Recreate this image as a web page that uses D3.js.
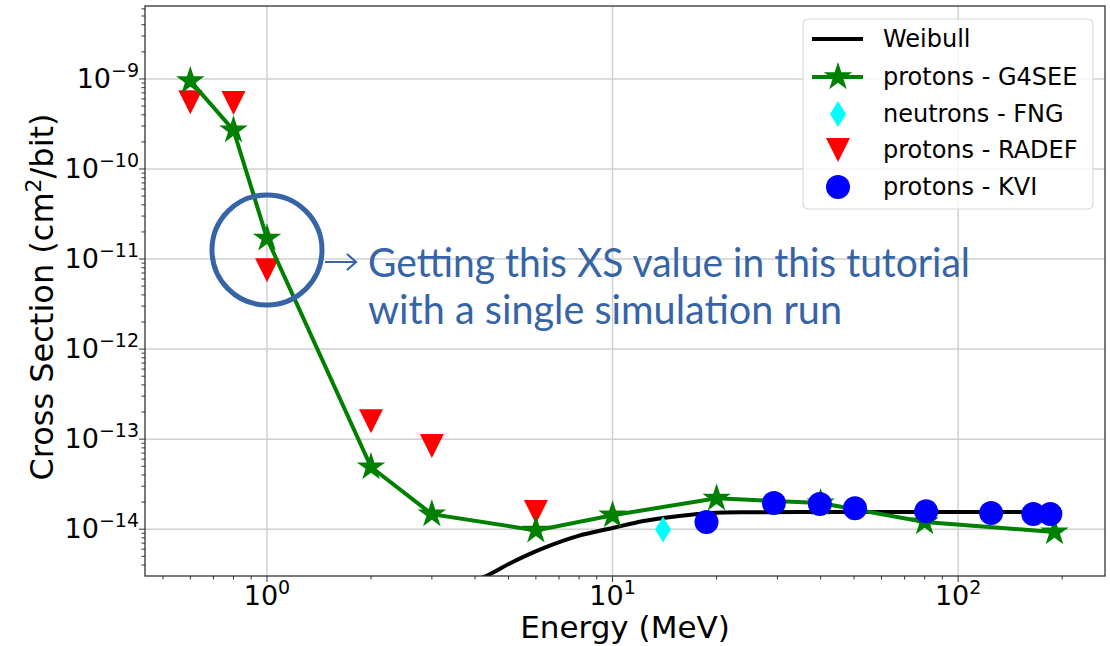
<!DOCTYPE html>
<html lang="en">

<head>
    <meta charset="UTF-8">
    <title>Cross Section vs Energy</title>
    <style>
    body {
        margin: 0;
        background: #fff;
    }

    text {
        font-family: "DejaVu Sans", sans-serif;
        fill: #000;
    }

    .note {
        font-family: Lato, "Open Sans", sans-serif;
        fill: #3764a6;
    }
    </style>
</head>

<body>
    <svg width="1110" height="646"></svg>
    <script src="https://cdn.jsdelivr.net/npm/d3@7"></script>
</body>
<script>
// values (energy in MeV, cross section in cm2/bit)
var weibullE = [3.9, 4.23, 5.06, 6.31, 7.92, 10, 12.3, 15.4, 19.2, 23.5, 35, 60, 100, 200];
var weibullXS = [2.6e-15, 2.93e-15, 4.19e-15, 6.15e-15, 8.36e-15, 1.03e-14, 1.23e-14, 1.39e-14, 1.51e-14, 1.54e-14, 1.55e-14, 1.55e-14, 1.55e-14, 1.55e-14];

var g4seeE = [0.6, 0.8, 1, 2, 3, 6, 10, 20, 40, 80, 190];
var g4seeXS = [9.5e-10, 2.7e-10, 1.7e-11, 4.9e-14, 1.47e-14, 9.7e-15, 1.43e-14, 2.2e-14, 1.95e-14, 1.2e-14, 9.3e-15];

var fngE = [14];
var fngXS = [9.9e-15];

var radefE = [0.6, 0.8, 1, 2, 3, 6];
var radefXS = [5.5e-10, 5.4e-10, 7.5e-12, 1.58e-13, 8.4e-14, 1.55e-14];

var kviE = [18.7, 29.3, 39.8, 50.3, 80.8, 124.6, 165, 184.8];
var kviXS = [1.2e-14, 1.95e-14, 1.9e-14, 1.71e-14, 1.58e-14, 1.51e-14, 1.47e-14, 1.47e-14];

var xTicks = [1, 10, 100];
var xTickExp = ["0", "1", "2"];
var yTicks = [1e-9, 1e-10, 1e-11, 1e-12, 1e-13, 1e-14];
var yTickExp = ["\u22129", "\u221210", "\u221211", "\u221212", "\u221213", "\u221214"];

var legendNames = ["Weibull", "protons - G4SEE", "neutrons - FNG", "protons - RADEF", "protons - KVI"];

var svg = d3.select("svg"),
    pLeft = 145,
    pRight = 1105,
    pTop = 6,
    pBottom = 576;

var x = d3.scaleLog()
    .domain([Math.pow(10, -0.353), Math.pow(10, 2.425)])
    .range([pLeft, pRight]);

var y = d3.scaleLog()
    .domain([Math.pow(10, -14.52), Math.pow(10, -8.19)])
    .range([pBottom, pTop]);

function zip(a, b) {
    return a.map(function(d, i) {
        return [d, b[i]];
    });
}

// marker shapes, sized like the matplotlib ones
function starPath(r) {
    var p = d3.path(),
        ri = r * 0.382;
    for (var i = 0; i < 10; i++) {
        var rr = i % 2 ? ri : r,
            a = Math.PI * i / 5;
        var px = rr * Math.sin(a),
            py = -rr * Math.cos(a);
        if (i == 0) p.moveTo(px, py);
        else p.lineTo(px, py);
    }
    p.closePath();
    return p.toString();
}

var triDown = "M0,12L-12,-12L12,-12Z";
var thinDiamond = "M0,-13L8,0L0,13L-8,0Z";

function at(d) {
    return "translate(" + x(d[0]) + "," + y(d[1]) + ")";
}

svg.append("defs").append("clipPath")
    .attr("id", "plot")
    .append("rect")
    .attr("x", pLeft)
    .attr("y", pTop)
    .attr("width", pRight - pLeft)
    .attr("height", pBottom - pTop);

// grid
var grid = svg.append("g");
grid.selectAll(".gx")
    .data(xTicks)
    .enter().append("line")
    .attr("x1", function(d) { return x(d); })
    .attr("x2", function(d) { return x(d); })
    .attr("y1", pTop)
    .attr("y2", pBottom)
    .attr("stroke", "#d0d0d0")
    .attr("stroke-width", 1.5);

grid.selectAll(".gy")
    .data(yTicks)
    .enter().append("line")
    .attr("x1", pLeft)
    .attr("x2", pRight)
    .attr("y1", function(d) { return y(d); })
    .attr("y2", function(d) { return y(d); })
    .attr("stroke", "#d0d0d0")
    .attr("stroke-width", 1.5);

var plot = svg.append("g").attr("clip-path", "url(#plot)");

var line = d3.line()
    .x(function(d) { return x(d[0]); })
    .y(function(d) { return y(d[1]); });

// weibull fit
plot.append("path")
    .datum(zip(weibullE, weibullXS))
    .attr("fill", "none")
    .attr("stroke", "#000")
    .attr("stroke-width", 4)
    .attr("d", line.curve(d3.curveMonotoneX));

// RADEF
plot.selectAll(".radef")
    .data(zip(radefE, radefXS))
    .enter().append("path")
    .attr("transform", at)
    .attr("d", triDown)
    .attr("fill", "#ff0000");

// G4SEE
plot.append("path")
    .datum(zip(g4seeE, g4seeXS))
    .attr("fill", "none")
    .attr("stroke", "#008000")
    .attr("stroke-width", 4)
    .attr("d", line.curve(d3.curveLinear));

plot.selectAll(".g4see")
    .data(zip(g4seeE, g4seeXS))
    .enter().append("path")
    .attr("transform", at)
    .attr("d", starPath(15))
    .attr("fill", "#008000");

// FNG
plot.selectAll(".fng")
    .data(zip(fngE, fngXS))
    .enter().append("path")
    .attr("transform", at)
    .attr("d", thinDiamond)
    .attr("fill", "#00ffff");

// KVI
plot.selectAll(".kvi")
    .data(zip(kviE, kviXS))
    .enter().append("circle")
    .attr("cx", function(d) { return x(d[0]); })
    .attr("cy", function(d) { return y(d[1]); })
    .attr("r", 12)
    .attr("fill", "#0000ff");

// spines
svg.append("rect")
    .attr("x", pLeft)
    .attr("y", pTop)
    .attr("width", pRight - pLeft)
    .attr("height", pBottom - pTop)
    .attr("fill", "none")
    .attr("stroke", "#333")
    .attr("stroke-width", 1.3);

// ticks (major + minor, outward)
var xMinor = x.ticks().filter(function(d) { return xTicks.indexOf(d) < 0; });
var yMinor = y.ticks().filter(function(d) {
    return !yTicks.some(function(t) { return Math.abs(t - d) / t < 1e-6; });
});

var ticks = svg.append("g").attr("stroke", "#333");
ticks.selectAll(".xt")
    .data(xTicks.map(function(d) { return [d, 6]; }).concat(xMinor.map(function(d) { return [d, 3.5]; })))
    .enter().append("line")
    .attr("x1", function(d) { return x(d[0]); })
    .attr("x2", function(d) { return x(d[0]); })
    .attr("y1", pBottom)
    .attr("y2", function(d) { return pBottom + d[1]; })
    .attr("stroke-width", 1);

ticks.selectAll(".yt")
    .data(yTicks.map(function(d) { return [d, 6]; }).concat(yMinor.map(function(d) { return [d, 3.5]; })))
    .enter().append("line")
    .attr("x1", pLeft)
    .attr("x2", function(d) { return pLeft - d[1]; })
    .attr("y1", function(d) { return y(d[0]); })
    .attr("y2", function(d) { return y(d[0]); })
    .attr("stroke-width", 1);

// tick labels: 10 with a superscript
var xl = svg.selectAll(".xl")
    .data(xTicks)
    .enter().append("text")
    .attr("x", function(d) { return x(d); })
    .attr("y", 605)
    .attr("text-anchor", "middle")
    .style("font-size", "27px");
xl.append("tspan").text("10");
xl.append("tspan")
    .attr("dy", -11)
    .style("font-size", "19px")
    .text(function(d, i) { return xTickExp[i]; });

var yl = svg.selectAll(".yl")
    .data(yTicks)
    .enter().append("text")
    .attr("x", 139)
    .attr("y", function(d) { return y(d) + 9; })
    .attr("text-anchor", "end")
    .style("font-size", "27px");
yl.append("tspan").text("10");
yl.append("tspan")
    .attr("dy", -11)
    .style("font-size", "19px")
    .text(function(d, i) { return yTickExp[i]; });

// axis titles
svg.append("text")
    .attr("x", (pLeft + pRight) / 2)
    .attr("y", 638)
    .attr("text-anchor", "middle")
    .style("font-size", "31px")
    .text("Energy (MeV)");

var yt = svg.append("text")
    .attr("transform", "translate(53," + 297 + ") rotate(-90)")
    .attr("text-anchor", "middle")
    .style("font-size", "32px");
yt.append("tspan").text("Cross Section (cm");
yt.append("tspan").attr("dy", -12).style("font-size", "22px").text("2");
yt.append("tspan").attr("dy", 12).text("/bit)");

// legend
var legend = svg.append("g");
legend.append("rect")
    .attr("x", 803)
    .attr("y", 19)
    .attr("width", 290)
    .attr("height", 190)
    .attr("rx", 5)
    .attr("fill", "#fff")
    .attr("fill-opacity", 0.8)
    .attr("stroke", "#d9d9d9")
    .attr("stroke-width", 1.2);

var rowY = [39, 77, 114, 150, 187];
var mx = 838;

legend.append("line")
    .attr("x1", 812).attr("x2", 863)
    .attr("y1", rowY[0]).attr("y2", rowY[0])
    .attr("stroke", "#000").attr("stroke-width", 4);
legend.append("line")
    .attr("x1", 812).attr("x2", 863)
    .attr("y1", rowY[1]).attr("y2", rowY[1])
    .attr("stroke", "#008000").attr("stroke-width", 4);
legend.append("path")
    .attr("transform", "translate(" + mx + "," + rowY[1] + ")")
    .attr("d", starPath(15))
    .attr("fill", "#008000");
legend.append("path")
    .attr("transform", "translate(" + mx + "," + rowY[2] + ")")
    .attr("d", thinDiamond)
    .attr("fill", "#00ffff");
legend.append("path")
    .attr("transform", "translate(" + mx + "," + rowY[3] + ")")
    .attr("d", triDown)
    .attr("fill", "#ff0000");
legend.append("circle")
    .attr("cx", mx).attr("cy", rowY[4]).attr("r", 12)
    .attr("fill", "#0000ff");

legend.selectAll(".lt")
    .data(legendNames)
    .enter().append("text")
    .attr("x", 883)
    .attr("y", function(d, i) { return rowY[i] + 8; })
    .style("font-size", "24px")
    .text(function(d) { return d; });

// annotation around the 1 MeV point
var note = svg.append("g");
note.append("circle")
    .attr("cx", x(1))
    .attr("cy", 250)
    .attr("r", 55)
    .attr("fill", "none")
    .attr("stroke", "#3764a6")
    .attr("stroke-width", 5);

note.append("path")
    .attr("d", "M325,262H356M347,254L356,262L347,270")
    .attr("fill", "none")
    .attr("stroke", "#3764a6")
    .attr("stroke-width", 2.2);

note.append("text")
    .attr("class", "note")
    .attr("x", 368)
    .attr("y", 277)
    .attr("textLength", 602)
    .attr("lengthAdjust", "spacingAndGlyphs")
    .style("font-size", "40px")
    .text("Getting this XS value in this tutorial");

note.append("text")
    .attr("class", "note")
    .attr("x", 368)
    .attr("y", 324)
    .attr("textLength", 474)
    .attr("lengthAdjust", "spacingAndGlyphs")
    .style("font-size", "40px")
    .text("with a single simulation run");
</script>

</html>
